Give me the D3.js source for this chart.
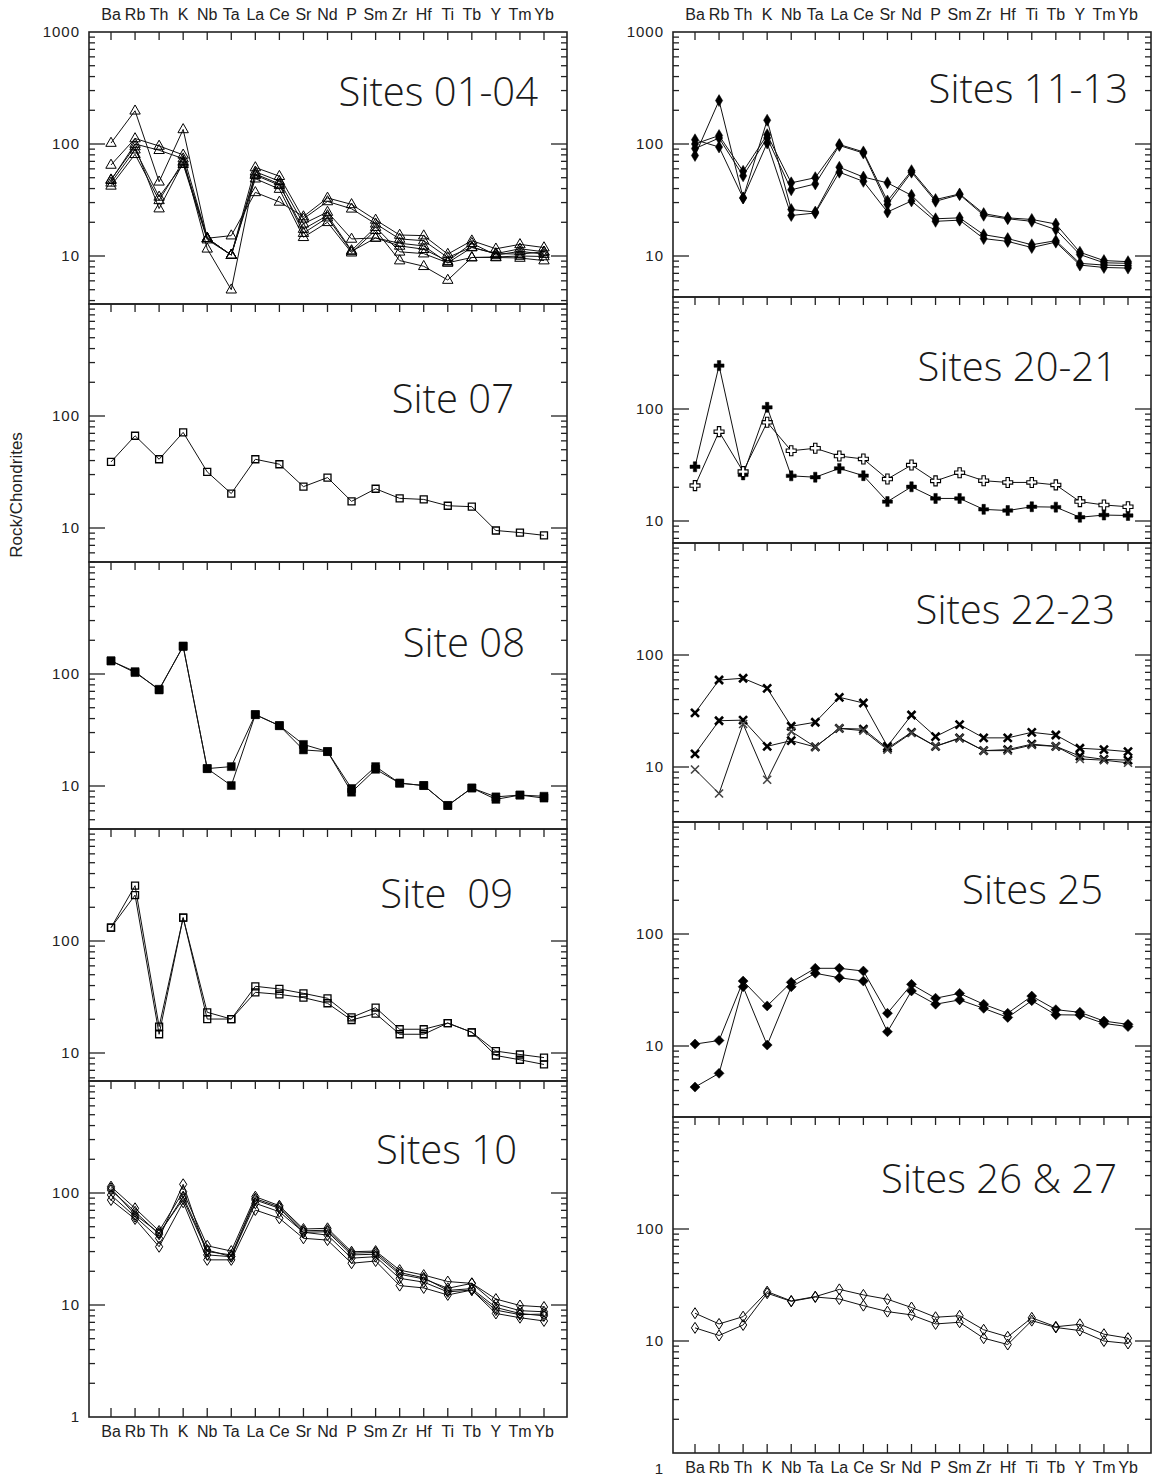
<!DOCTYPE html>
<html><head><meta charset="utf-8">
<script src="https://cdn.jsdelivr.net/npm/d3@7"></script>
<style>body{margin:0;background:#fff;} svg{display:block}</style>
</head><body><svg id="c" width="1152" height="1478"></svg>
<script>
// ---------------- DATA ----------------
const elements = ["Ba","Rb","Th","K","Nb","Ta","La","Ce","Sr","Nd","P","Sm","Zr","Hf","Ti","Tb","Y","Tm","Yb"];
const panelTitles = ["Sites 01-04","Site 07","Site 08","Site  09","Sites 10",
                     "Sites 11-13","Sites 20-21","Sites 22-23","Sites 25","Sites 26 & 27"];
const yTickValues = [1, 10, 100, 1000];
const yAxisTitle = "Rock/Chondrites";

const sites01_04 = [
  [102,198,46,135,14.4,15.2,37,30.4,22.5,33,28.9,21,15.4,15.2,10.4,13.7,11.6,12.7,11.9],
  [65,112,96,80,14.4,10.2,61.7,51.6,21.5,30.7,26.4,19.4,14.2,13.7,9.7,12,10.5,11.6,10.9],
  [47.5,100,88,74,11.6,5.0,56.5,46.6,19.4,24.7,14.2,14.5,13,12.3,8.7,11.9,10.5,10.4,10.9],
  [45,89,33.7,66,14,10.2,52.7,42.8,17.4,23,11.2,18.1,10.9,10.5,8.7,9.7,9.7,9.6,9.1],
  [42.3,81,31.4,70,14.4,10.2,49,39.6,14.7,20,10.7,17,9.1,8.1,6.1,9.7,9.8,10,9.9],
  [48,95,26.5,68,14.4,10.2,54,44,16,22,11,14.5,12.3,11.5,9,13,10.2,11,10.4]
];
const site07 = [
  [38.9,66.6,41.1,71.4,31.7,20.3,41.1,37.1,23.4,28.2,17.3,22.4,18.4,18.0,15.8,15.5,9.5,9.1,8.6]
];
const site08 = [
  [131,105,72,178,14.3,14.9,43.4,34.6,23.5,20.3,9.5,14.9,10.6,10.1,6.7,9.6,8.0,8.3,8.1],
  [131,103,73,176,14.3,10.1,43.4,34.6,21,20.3,8.8,14.1,10.6,10.1,6.7,9.6,7.6,8.3,7.8]
];
const site09 = [
  [131.5,312,17.2,161.5,23.1,20.1,39.4,37.3,34.1,30.8,20.8,25.4,16.3,16.3,18.5,15.3,10.4,9.7,9.1],
  [131.5,257,14.7,161.5,20.1,20.1,34.8,33.4,31.2,27.8,19.7,22.5,14.7,14.7,18.5,15.3,9.5,8.7,7.9]
];
const sites10 = [
  [114,73,45.8,102.7,33.8,30.3,92.7,77,47.7,48.4,29.9,30.3,20.5,18.5,16.2,15.6,11.3,9.9,9.6],
  [106,68,42.8,92.7,31,27,86.6,73,44.6,45.1,28,28.4,18.8,17.1,14.1,15.6,10.2,8.9,8.7],
  [96,61.5,39.4,119.6,28,27,80.9,68,44.6,42.1,26.2,27,17.3,16,13.1,13.6,9.0,8.2,8.3],
  [86.6,58.6,33.1,82.6,25.3,25.3,70.5,59.5,39.4,38,23.6,24.7,14.9,14.2,12.3,13.6,8.4,7.7,7.2],
  [110,64,44,88,30,28,89,75,46,46.5,29,29.5,19.5,17.5,13.5,14,9.5,8.4,8.0]
];
const sites11_13 = [
  [100,119,57,121,45,50,99,85,31,57.8,31.9,35.8,23.9,21.9,21.2,19.3,10.8,9.1,8.9],
  [91,113,52,113,39,44,97,83,28.8,56,30.8,35.3,23.1,21.5,20.4,17.2,10.3,8.7,8.6],
  [79,244,33,163,26,24.7,62,50.7,45,34.8,21.5,21.9,15.5,14.3,12.6,13.7,8.6,8.3,8.2],
  [109,94,33,102,23,24.2,56,46.4,24.7,31,20.4,20.9,14.3,13.5,11.9,13.3,8.3,7.9,7.8]
];
const sites20_21 = [
  [30.5,244,25.8,103.5,25.3,24.6,29.5,25.4,14.9,20.2,15.9,15.9,12.7,12.4,13.4,13.3,10.8,11.3,11.2],
  [20.7,62.8,27.6,76.1,42.4,44.6,38,35.8,23.7,31.6,22.8,27,22.9,22.1,22.1,21,14.9,13.9,13.4]
];
const sites22_23 = [
  [30.4,59.8,62,50.4,23.1,25.1,41.9,37.3,15.3,29.1,18.7,23.9,18.2,18.2,20.4,19.3,14.7,14.3,13.7],
  [13.1,25.9,26.2,15.3,17.2,15.1,22.1,21.8,14.7,20.4,15.3,18.2,14.0,14.3,16.0,15.3,12.5,11.7,11.5],
  [9.5,5.8,24.2,7.7,20.8,15.1,22.1,21.1,14.3,20.1,15.3,18,14.0,14.0,15.7,15.3,11.8,11.5,10.9]
];
const sites25 = [
  [10.4,11.2,38,22.8,37,49.4,49.4,46.7,19.6,35.5,26.7,29.5,23.6,19.6,27.9,21.1,20.0,16.7,15.6],
  [4.3,5.7,33.8,10.2,33.8,44.6,40.7,38,13.4,31,23.6,25.8,21.7,18,25.4,19.0,18.9,15.9,14.9]
];
const sites26_27 = [
  [17.7,14.2,16.5,27.6,22.8,24.9,28.9,25.8,23.6,19.9,16.3,16.8,12.6,10.9,16.1,13.4,14.1,11.5,10.6],
  [13.1,11.2,13.9,26.7,22.6,24.7,23.7,20.7,18.3,17.1,14.2,14.7,10.6,9.3,15.2,13.2,12.4,10,9.5]
];

// ---------------- LAYOUT ----------------
const DECADE = 112;
const columns = [{left: 89, right: 567, bottomLabelShift: 0}, {left: 673, right: 1151, bottomLabelShift: 16}];
const panels = [
  {col:0, top:32,   bottom:304,  tx:538,  ty:106,  data:sites01_04, marks:["triOpen"]},
  {col:0, top:304,  bottom:562,  tx:514,  ty:413,  data:site07,     marks:["sqOpen"]},
  {col:0, top:562,  bottom:829,  tx:525,  ty:657,  data:site08,     marks:["sqFill"]},
  {col:0, top:829,  bottom:1081, tx:513,  ty:908,  data:site09,     marks:["sqOpen"]},
  {col:0, top:1081, bottom:1417, tx:517,  ty:1164, data:sites10,    marks:["diaOpen"]},
  {col:1, top:32,   bottom:297,  tx:1128, ty:103,  data:sites11_13, marks:["diaFillTall"]},
  {col:1, top:297,  bottom:543,  tx:1117, ty:381,  data:sites20_21, marks:["plusFill","plusOpen"]},
  {col:1, top:543,  bottom:822,  tx:1115, ty:624,  data:sites22_23, marks:["xBold","xBold","xLight"]},
  {col:1, top:822,  bottom:1117, tx:1103, ty:904,  data:sites25,    marks:["diaFill"]},
  {col:1, top:1117, bottom:1453, tx:1117, ty:1193, data:sites26_27, marks:["diaOpen"]}
];
const markerDefs = {
  triOpen:     {d:"M0,-5.8L5.2,3.3L-5.2,3.3Z", fill:"none", stroke:"#000", sw:1},
  sqOpen:      {d:"M-3.5,-3.5h7v7h-7Z", fill:"none", stroke:"#000", sw:1.3},
  sqFill:      {d:"M-4,-4h8v8h-8Z", fill:"#000", stroke:"#000", sw:0.5},
  diaOpen:     {d:"M0,-5.5L3.6,0L0,5.5L-3.6,0Z", fill:"none", stroke:"#000", sw:1},
  diaFillTall: {d:"M0,-6L3.6,0L0,6L-3.6,0Z", fill:"#000", stroke:"#000", sw:0.5},
  diaFill:     {d:"M0,-5L5,0L0,5L-5,0Z", fill:"#000", stroke:"#000", sw:0.5},
  plusFill:    {d:"M-1.7,-5h3.4v3.3h3.3v3.4h-3.3v3.3h-3.4v-3.3h-3.3v-3.4h3.3Z", fill:"#000", stroke:"#000", sw:0.5},
  plusOpen:    {d:"M-1.7,-5h3.4v3.3h3.3v3.4h-3.3v3.3h-3.4v-3.3h-3.3v-3.4h3.3Z", fill:"#fff", stroke:"#000", sw:1.1},
  xBold:       {d:"M-4,-4L4,4M-4,4L4,-4", fill:"none", stroke:"#000", sw:2.6},
  xLight:      {d:"M-4,-4L4,4M-4,4L4,-4", fill:"none", stroke:"#444", sw:1.6}
};

// ---------------- DRAW ----------------
const svg = d3.select("#c");
const labelFont = "'Liberation Sans', Arial, sans-serif";

columns.forEach((c, ci) => {
  c.x = d3.scalePoint().domain(elements).range([c.left + 22, c.right - 23]);
  const colPanels = panels.filter(p => p.col === ci);
  const firstTop = colPanels[0].top;
  const lastBottom = colPanels[colPanels.length - 1].bottom;
  [firstTop - 12, lastBottom + 20].forEach(yy => {
    svg.append("g").selectAll("text").data(elements).join("text")
      .attr("x", d => c.x(d)).attr("y", yy)
      .attr("text-anchor", "middle")
      .attr("font-family", labelFont).attr("font-size", 16)
      .attr("fill", "#222")
      .text(d => d);
  });
});

panels.forEach((p, pi) => {
  const c = columns[p.col];
  const yMin = Math.pow(10, 3 - (p.bottom - p.top) / DECADE);
  const y = d3.scaleLog().domain([yMin, 1000]).range([p.bottom, p.top]);
  const g = svg.append("g");
  const colPanels = panels.filter(q => q.col === p.col);
  const isFirst = colPanels[0] === p, isLast = colPanels[colPanels.length - 1] === p;

  const tickVals = [];
  [1, 10, 100].forEach(dec => { for (let k = 1; k <= 9; k++) tickVals.push(k * dec); });
  const inRange = tickVals.filter(v => v > yMin * 1.001 && v < 999);
  const tk = g.append("g").attr("stroke", "#222").attr("stroke-width", 1.3);
  inRange.forEach(v => {
    const major = yTickValues.includes(v);
    const len = major ? 16 : 6;
    const yy = y(v);
    tk.append("line").attr("x1", c.left).attr("x2", c.left + len).attr("y1", yy).attr("y2", yy);
    tk.append("line").attr("x1", c.right).attr("x2", c.right - len).attr("y1", yy).attr("y2", yy);
  });
  elements.forEach(e => {
    tk.append("line").attr("x1", c.x(e)).attr("x2", c.x(e)).attr("y1", p.top).attr("y2", p.top + 8);
    if (isLast) tk.append("line").attr("x1", c.x(e)).attr("x2", c.x(e)).attr("y1", p.bottom).attr("y2", p.bottom - 9);
  });

  const isBottomVal = v => isLast && Math.abs(v - yMin) < 0.01;
  const labVals = yTickValues.filter(v => (v > yMin * 1.001 && v < 999) || (v === 1000 && isFirst) || isBottomVal(v));
  g.append("g").selectAll("text").data(labVals).join("text")
    .attr("x", c.left - 9).attr("y", v => y(v) + 5 + (isBottomVal(v) ? c.bottomLabelShift : 0))
    .attr("text-anchor", "end")
    .attr("font-family", labelFont).attr("font-size", 15).attr("letter-spacing", 1)
    .attr("fill", "#222")
    .text(v => v);

  g.append("rect").attr("x", c.left).attr("y", p.top)
    .attr("width", c.right - c.left).attr("height", p.bottom - p.top)
    .attr("fill", "none").attr("stroke", "#222").attr("stroke-width", 1.6);

  g.append("text").attr("x", p.tx).attr("y", p.ty).attr("text-anchor", "end")
    .attr("font-family", "'Open Sans', 'Noto Sans', sans-serif").attr("font-size", 40)
    .attr("font-weight", 300)
    .attr("fill", "#1a1a1a").style("white-space", "pre")
    .text(panelTitles[pi]);

  const line = d3.line().x((d, i) => c.x(elements[i])).y(d => y(d));
  p.data.forEach(s => {
    g.append("path").datum(s).attr("d", line)
      .attr("fill", "none").attr("stroke", "#111").attr("stroke-width", 1);
  });
  p.data.forEach((s, si) => {
    const m = markerDefs[p.marks[Math.min(si, p.marks.length - 1)]];
    g.append("g").selectAll("path").data(s).join("path")
      .attr("transform", (d, i) => `translate(${c.x(elements[i])},${y(d)})`)
      .attr("d", m.d).attr("fill", m.fill).attr("stroke", m.stroke).attr("stroke-width", m.sw);
  });
});

svg.append("text").attr("transform", "translate(22,495) rotate(-90)")
  .attr("text-anchor", "middle")
  .attr("font-family", "'Liberation Sans Narrow', 'Liberation Sans', Arial, sans-serif")
  .attr("font-size", 17).attr("fill", "#222")
  .text(yAxisTitle);
</script>
</body></html>
